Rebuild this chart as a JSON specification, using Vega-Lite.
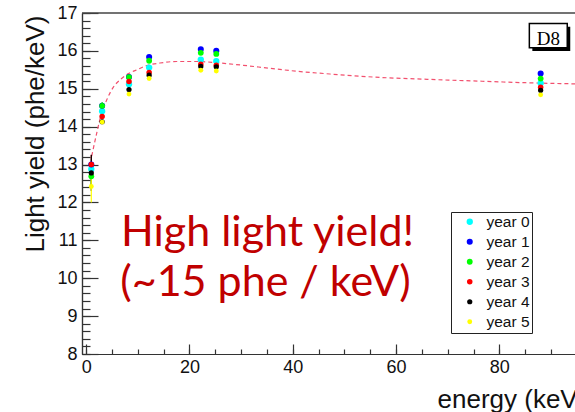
{
  "$schema": "https://vega.github.io/schema/vega-lite/v6.json",
  "autosize": {"type": "none"},
  "padding": {"left": 82, "top": 13, "right": 0, "bottom": 58},
  "width": 493,
  "height": 341,
  "background": "white",
  "config": {
    "view": {"stroke": null},
    "axis": {"grid": false, "labelFont": "Liberation Sans", "labelFontSize": 18, "labelColor": "#111", "titleFont": "Liberation Sans", "titleFontSize": 26, "titleFontWeight": "normal", "titleColor": "#111", "domainColor": "#333", "domainWidth": 1.2, "tickColor": "#333", "tickWidth": 1.2, "tickOpacity": 1, "zindex": 1}
  },
  "datasets": {
    "points": [
      {"energy": 1.0, "ly": 12.88, "year": "year 0", "lo": 12.6, "hi": 13.15},
      {"energy": 3.1, "ly": 14.41, "year": "year 0"},
      {"energy": 8.3, "ly": 15.12, "year": "year 0"},
      {"energy": 12.2, "ly": 15.56, "year": "year 0"},
      {"energy": 22.2, "ly": 15.77, "year": "year 0"},
      {"energy": 25.2, "ly": 15.73, "year": "year 0"},
      {"energy": 88.0, "ly": 15.15, "year": "year 0"},
      {"energy": 1.0, "ly": 13.0, "year": "year 1"},
      {"energy": 3.1, "ly": 14.55, "year": "year 1"},
      {"energy": 8.3, "ly": 15.31, "year": "year 1"},
      {"energy": 12.2, "ly": 15.84, "year": "year 1"},
      {"energy": 22.2, "ly": 16.04, "year": "year 1"},
      {"energy": 25.2, "ly": 16.0, "year": "year 1"},
      {"energy": 88.0, "ly": 15.4, "year": "year 1"},
      {"energy": 1.0, "ly": 12.69, "year": "year 2", "lo": 12.45, "hi": 12.95},
      {"energy": 3.1, "ly": 14.55, "year": "year 2", "lo": 14.45, "hi": 14.65},
      {"energy": 8.3, "ly": 15.31, "year": "year 2"},
      {"energy": 12.2, "ly": 15.74, "year": "year 2"},
      {"energy": 22.2, "ly": 15.95, "year": "year 2"},
      {"energy": 25.2, "ly": 15.92, "year": "year 2"},
      {"energy": 88.0, "ly": 15.27, "year": "year 2"},
      {"energy": 1.0, "ly": 13.0, "year": "year 3", "lo": 12.75, "hi": 13.25},
      {"energy": 3.1, "ly": 14.27, "year": "year 3"},
      {"energy": 8.3, "ly": 15.19, "year": "year 3"},
      {"energy": 12.2, "ly": 15.43, "year": "year 3"},
      {"energy": 22.2, "ly": 15.65, "year": "year 3"},
      {"energy": 25.2, "ly": 15.62, "year": "year 3"},
      {"energy": 88.0, "ly": 15.04, "year": "year 3"},
      {"energy": 1.0, "ly": 12.78, "year": "year 4", "lo": 12.3, "hi": 13.26},
      {"energy": 3.1, "ly": 14.13, "year": "year 4"},
      {"energy": 8.3, "ly": 14.98, "year": "year 4"},
      {"energy": 12.2, "ly": 15.36, "year": "year 4"},
      {"energy": 22.2, "ly": 15.59, "year": "year 4"},
      {"energy": 25.2, "ly": 15.58, "year": "year 4"},
      {"energy": 88.0, "ly": 14.96, "year": "year 4"},
      {"energy": 1.0, "ly": 12.42, "year": "year 5", "lo": 12.0, "hi": 12.84},
      {"energy": 3.1, "ly": 14.12, "year": "year 5"},
      {"energy": 8.3, "ly": 14.86, "year": "year 5"},
      {"energy": 12.2, "ly": 15.27, "year": "year 5"},
      {"energy": 22.2, "ly": 15.49, "year": "year 5"},
      {"energy": 25.2, "ly": 15.47, "year": "year 5"},
      {"energy": 88.0, "ly": 14.84, "year": "year 5"}
    ],
    "fit": [
      {"energy": 1.08, "ly": 13.22},
      {"energy": 2.05, "ly": 13.83},
      {"energy": 3.0, "ly": 14.36},
      {"energy": 4.0, "ly": 14.71},
      {"energy": 5.3, "ly": 15.05},
      {"energy": 6.6, "ly": 15.24},
      {"energy": 8.2, "ly": 15.4},
      {"energy": 9.8, "ly": 15.5},
      {"energy": 11.7, "ly": 15.61},
      {"energy": 14.3, "ly": 15.68},
      {"energy": 17.5, "ly": 15.72},
      {"energy": 21.4, "ly": 15.72},
      {"energy": 25.9, "ly": 15.68},
      {"energy": 30.4, "ly": 15.62},
      {"energy": 35.6, "ly": 15.54},
      {"energy": 41.0, "ly": 15.46},
      {"energy": 47.2, "ly": 15.39},
      {"energy": 56.9, "ly": 15.3},
      {"energy": 66.0, "ly": 15.25},
      {"energy": 76.3, "ly": 15.2},
      {"energy": 85.0, "ly": 15.16},
      {"energy": 94.7, "ly": 15.13}
    ],
    "one": [{"k": 1}]
  },
  "resolve": {"axis": {"x": "independent", "y": "independent"}},
  "layer": [
    {
      "data": {"name": "fit"},
      "mark": {"type": "line", "color": "#f2506e", "strokeWidth": 1.2, "strokeDash": [4, 3], "interpolate": "monotone", "clip": true},
      "encoding": {
        "x": {"field": "energy", "type": "quantitative", "scale": {"domain": [-0.8, 94.65], "nice": false, "zero": false},
              "axis": {"orient": "top", "offset": -341, "tickCount": 19, "ticks": true, "tickSize": 5, "tickColor": "#333", "labels": false, "domain": true, "title": null}},
        "y": {"field": "ly", "type": "quantitative", "scale": {"domain": [8, 17], "nice": false, "zero": false},
              "axis": {"orient": "right", "offset": -493, "tickCount": 45, "ticks": true, "tickSize": 8, "tickColor": "#333", "labels": false, "domain": true, "title": null}}
      }
    },
    {
      "data": {"name": "points"},
      "mark": {"type": "rule", "strokeWidth": 1.2},
      "encoding": {
        "x": {"field": "energy", "type": "quantitative", "scale": {"domain": [-0.8, 94.65], "nice": false, "zero": false}, "axis": null},
        "y": {"field": "lo", "type": "quantitative", "scale": {"domain": [8, 17], "nice": false, "zero": false}, "axis": null},
        "y2": {"field": "hi"},
        "color": {"field": "year", "type": "nominal"}
      }
    },
    {
      "data": {"name": "points"},
      "mark": {"type": "point", "shape": "circle", "filled": true, "opacity": 1},
      "encoding": {
        "x": {"field": "energy", "type": "quantitative", "scale": {"domain": [-0.8, 94.65], "nice": false, "zero": false},
              "axis": {"orient": "bottom", "values": [0, 20, 40, 60, 80], "ticks": true, "tickSize": -10, "tickColor": "#333", "labelPadding": 14, "domain": true,
                       "title": "energy (keV)", "titleAnchor": "start", "titleAlign": "left", "titleX": 355, "titleY": 53, "titleBaseline": "alphabetic"}},
        "y": {"field": "ly", "type": "quantitative", "scale": {"domain": [8, 17], "nice": false, "zero": false},
              "axis": {"orient": "left", "values": [8, 9, 10, 11, 12, 13, 14, 15, 16, 17], "ticks": true, "tickSize": -16, "tickColor": "#333", "labelPadding": 21, "domain": true,
                       "title": "Light yield (phe/keV)", "titleAngle": -90, "titleAlign": "right", "titleX": -39, "titleY": 2, "titleBaseline": "alphabetic"}},
        "color": {"field": "year", "type": "nominal",
                  "scale": {"domain": ["year 0", "year 1", "year 2", "year 3", "year 4", "year 5"], "range": ["#00ffff", "#0000ff", "#00ff00", "#ff0000", "#000000", "#ffff00"]},
                  "legend": {"orient": "none", "legendX": 369, "legendY": 199, "title": null, "fillColor": "white", "strokeColor": "#222",
                             "padding": 2, "symbolType": "circle", "symbolSize": 6, "symbolStrokeWidth": 0, "symbolOffset": 9, "labelOffset": 9,
                             "labelFont": "Liberation Sans", "labelFontSize": 15.5, "labelColor": "#111", "rowPadding": 3,
                             "encode": {"symbols": {"update": {"size": {"value": 6}}}}}},
        "size": {"field": "year", "type": "nominal",
                 "scale": {"domain": ["year 0", "year 1", "year 2", "year 3", "year 4", "year 5"], "range": [40, 24, 24, 34, 34, 50]},
                 "legend": null}
      }
    },
    {
      "data": {"name": "one"},
      "mark": {"type": "rule", "color": "#444", "strokeWidth": 1.5},
      "encoding": {
        "y": {"datum": 17, "type": "quantitative", "scale": {"domain": [8, 17], "nice": false, "zero": false}, "axis": null}
      }
    },
    {
      "data": {"name": "one"},
      "mark": {"type": "rect", "fill": "black"},
      "encoding": {
        "x": {"datum": 86.39, "type": "quantitative", "scale": {"domain": [-0.8, 94.65], "nice": false, "zero": false}, "axis": null},
        "x2": {"datum": 93.73},
        "y": {"datum": 16.64, "type": "quantitative", "scale": {"domain": [8, 17], "nice": false, "zero": false}, "axis": null},
        "y2": {"datum": 16.0}
      }
    },
    {
      "data": {"name": "one"},
      "mark": {"type": "rect", "fill": "white", "stroke": "black", "strokeWidth": 1.5},
      "encoding": {
        "x": {"datum": 85.81, "type": "quantitative", "scale": {"domain": [-0.8, 94.65], "nice": false, "zero": false}, "axis": null},
        "x2": {"datum": 93.15},
        "y": {"datum": 16.72, "type": "quantitative", "scale": {"domain": [8, 17], "nice": false, "zero": false}, "axis": null},
        "y2": {"datum": 16.08}
      }
    },
    {
      "data": {"name": "one"},
      "mark": {"type": "text", "font": "Liberation Serif", "fontSize": 19, "color": "black", "align": "center", "baseline": "alphabetic"},
      "encoding": {
        "x": {"datum": 89.5, "type": "quantitative", "scale": {"domain": [-0.8, 94.65], "nice": false, "zero": false}, "axis": null},
        "y": {"datum": 16.15, "type": "quantitative", "scale": {"domain": [8, 17], "nice": false, "zero": false}, "axis": null},
        "text": {"value": "D8"}
      }
    },
    {
      "data": {"name": "one"},
      "mark": {"type": "text", "font": "Lato", "fontSize": 43, "color": "#c00000", "align": "left", "baseline": "alphabetic"},
      "encoding": {
        "x": {"datum": 6.75, "type": "quantitative", "scale": {"domain": [-0.8, 94.65], "nice": false, "zero": false}, "axis": null},
        "y": {"datum": 10.84, "type": "quantitative", "scale": {"domain": [8, 17], "nice": false, "zero": false}, "axis": null},
        "text": {"value": "High light yield!"}
      }
    },
    {
      "data": {"name": "one"},
      "mark": {"type": "text", "font": "Lato", "fontSize": 43, "color": "#c00000", "align": "left", "baseline": "alphabetic"},
      "encoding": {
        "x": {"datum": 6.6, "type": "quantitative", "scale": {"domain": [-0.8, 94.65], "nice": false, "zero": false}, "axis": null},
        "y": {"datum": 9.52, "type": "quantitative", "scale": {"domain": [8, 17], "nice": false, "zero": false}, "axis": null},
        "text": {"value": "(~15 phe / keV)"}
      }
    }
  ]
}
